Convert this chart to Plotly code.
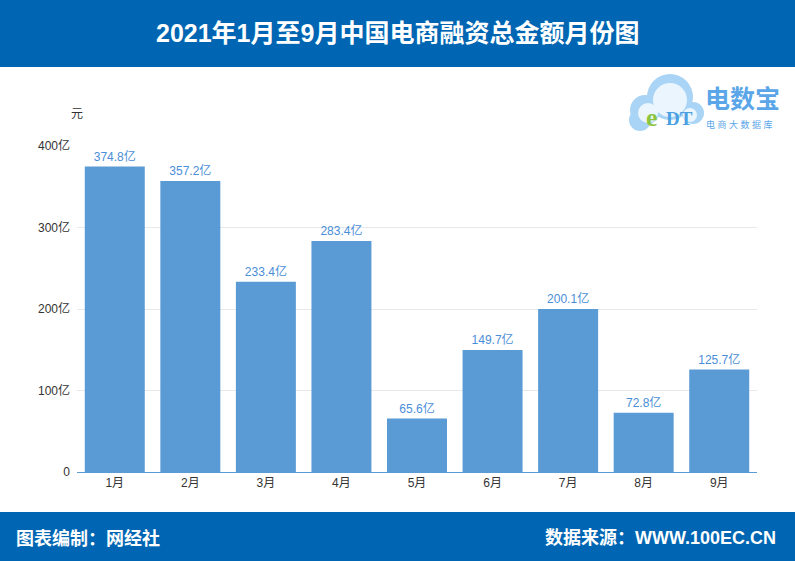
import plotly.graph_objects as go

months = ["1月", "2月", "3月", "4月", "5月", "6月", "7月", "8月", "9月"]
values = [374.8, 357.2, 233.4, 283.4, 65.6, 149.7, 200.1, 72.8, 125.7]
ytick_vals = [0, 100, 200, 300, 400]
ytick_text = ["0", "100亿", "200亿", "300亿", "400亿"]

title = "2021年1月至9月中国电商融资总金额月份图"
footer_left = "图表编制：网经社"
footer_right = "数据来源：WWW.100EC.CN"

W, H = 795, 561
L, R, T, B = 77, 38, 146, 89
pw, ph = W - L - R, H - T - B

def px(x):
    return (x - L) / pw

def py(y):
    return (H - B - y) / ph

font_cn = "Liberation Sans, Noto Sans CJK SC, sans-serif"

fig = go.Figure(go.Bar(
    x=months, y=values,
    marker=dict(color="#5b9bd5", line=dict(width=0)),
    text=[f"{v:.1f}亿" for v in values],
    textposition="outside",
    textfont=dict(color="#4a8ed8", size=12, family=font_cn),
    cliponaxis=False,
))

shapes = [
    dict(type="rect", xref="paper", yref="paper", x0=px(0), x1=px(W), y0=py(67), y1=py(0),
         fillcolor="#0066b3", line=dict(width=0), layer="below"),
    dict(type="rect", xref="paper", yref="paper", x0=px(0), x1=px(W), y0=py(H), y1=py(512),
         fillcolor="#0066b3", line=dict(width=0), layer="below"),
]
# logo cloud (outer light blue, inner white)
for cx, cy, r, col in [(670, 97, 23, "#a9d4f5"), (645, 110, 15, "#a9d4f5"), (640, 120, 11, "#a9d4f5"),
                       (693, 113, 11, "#a9d4f5"),
                       (670, 100, 17, "#eaf5fd"), (648, 113, 10, "#eaf5fd"), (690, 115, 7, "#eaf5fd")]:
    shapes.append(dict(type="circle", xref="paper", yref="paper",
                       x0=px(cx - r), x1=px(cx + r), y0=py(cy + r), y1=py(cy - r),
                       fillcolor=col, line=dict(width=0), layer="above"))

annotations = [
    dict(text="<b>" + title + "</b>", x=px(W / 2), y=py(33), xref="paper", yref="paper", showarrow=False,
         font=dict(color="white", size=25, family=font_cn), xanchor="center", yanchor="middle"),
    dict(text="<b>" + footer_left + "</b>", x=px(14), y=py(538), xref="paper", yref="paper", showarrow=False,
         font=dict(color="white", size=18, family=font_cn), xanchor="left", yanchor="middle"),
    dict(text="<b>" + footer_right + "</b>", x=px(778), y=py(538), xref="paper", yref="paper", showarrow=False,
         font=dict(color="white", size=18, family=font_cn), xanchor="right", yanchor="middle"),
    dict(text="元", x=px(77), y=py(114), xref="paper", yref="paper", showarrow=False,
         font=dict(color="#333333", size=12, family=font_cn), xanchor="center", yanchor="middle"),
    dict(text="<b>电数宝</b>", x=px(703), y=py(99), xref="paper", yref="paper", showarrow=False,
         font=dict(color="#5ba6e8", size=25, family=font_cn), xanchor="left", yanchor="middle"),
    dict(text="电 商 大 数 据 库", x=px(704), y=py(125), xref="paper", yref="paper", showarrow=False,
         font=dict(color="#5ba6e8", size=9, family=font_cn), xanchor="left", yanchor="middle"),
    dict(text="<b>e</b>", x=px(652), y=py(117), xref="paper", yref="paper", showarrow=False,
         font=dict(color="#8cc63f", size=26, family="Liberation Serif"), xanchor="center", yanchor="middle"),
    dict(text="<b>DT</b>", x=px(679), y=py(118), xref="paper", yref="paper", showarrow=False,
         font=dict(color="#4a9fe0", size=19, family="Liberation Serif"), xanchor="center", yanchor="middle"),
]

fig.update_layout(
    width=W, height=H,
    margin=dict(l=L, r=R, t=T, b=B, pad=0),
    paper_bgcolor="white", plot_bgcolor="white",
    bargap=0.206,
    showlegend=False,
    shapes=shapes,
    annotations=annotations,
    font=dict(family=font_cn, color="#333333", size=12),
    xaxis=dict(showgrid=False, showline=True, linecolor="#5b9bd5", linewidth=1,
               ticks="", tickfont=dict(size=12, color="#333333")),
    yaxis=dict(range=[0, 400], tickvals=ytick_vals, ticktext=ytick_text,
               showgrid=True, gridcolor="#e8e8e8", gridwidth=1, zeroline=False,
               showline=False, ticks="", ticklabelstandoff=6,
               tickfont=dict(size=12, color="#333333")),
)

fig.write_html("out.html")
